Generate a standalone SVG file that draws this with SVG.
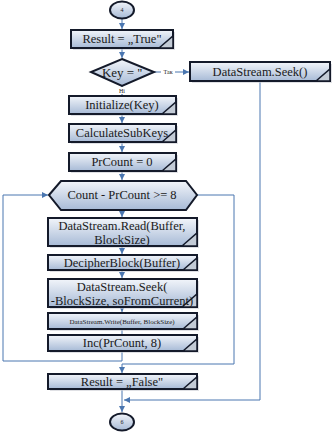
<svg xmlns="http://www.w3.org/2000/svg" width="335" height="435" viewBox="0 0 335 435">
<defs>
<linearGradient id="g" x1="0" y1="0" x2="0" y2="1">
<stop offset="0" stop-color="#f2f5fa"/>
<stop offset="1" stop-color="#a7bad6"/>
</linearGradient>
<marker id="a" viewBox="0 0 6 6" refX="6" refY="3" markerWidth="6" markerHeight="6" markerUnits="userSpaceOnUse" orient="auto">
<path d="M0,0 L6,3 L0,6 Z" fill="#4a76b0"/>
</marker>
<style>
.b{fill:url(#g);stroke:#141a2a;stroke-width:2}
.s{fill:#c9ccd2;opacity:0.6}
.c{fill:#c3cbd6;stroke:#141a2a;stroke-width:1.5}
.t{font-family:"Liberation Serif","Times New Roman",serif;font-size:12.5px;fill:#1a1a1a;text-anchor:middle}
.big{font-size:13px}
.sm{font-family:"Liberation Serif","Times New Roman",serif;font-size:6px;fill:#1a1a1a;text-anchor:middle}
.l{fill:none;stroke:#4a76b0;stroke-width:1}
</style>
</defs>
<rect width="335" height="435" fill="#ffffff"/>
<g id="connectors">
<line class="l" x1="122" y1="19" x2="122" y2="29" marker-end="url(#a)"/>
<line class="l" x1="122" y1="49" x2="122" y2="58" marker-end="url(#a)"/>
<line class="l" x1="154" y1="72" x2="189" y2="72" marker-end="url(#a)"/>
<line class="l" x1="122" y1="86" x2="122" y2="95" marker-end="url(#a)"/>
<line class="l" x1="122" y1="115" x2="122" y2="123" marker-end="url(#a)"/>
<line class="l" x1="122" y1="143" x2="122" y2="152" marker-end="url(#a)"/>
<line class="l" x1="122" y1="172" x2="122" y2="180" marker-end="url(#a)"/>
<line class="l" x1="122" y1="211" x2="122" y2="217" marker-end="url(#a)"/>
<line class="l" x1="122" y1="247" x2="122" y2="254" marker-end="url(#a)"/>
<line class="l" x1="122" y1="271" x2="122" y2="278" marker-end="url(#a)"/>
<line class="l" x1="122" y1="308" x2="122" y2="312" marker-end="url(#a)"/>
<line class="l" x1="122" y1="330" x2="122" y2="335"/>
<polyline class="l" points="122,352 122,361 3,361 3,195 48,195" marker-end="url(#a)"/>
<polyline class="l" points="197,195 234,195 234,364 122,364 122,373" marker-end="url(#a)"/>
<polyline class="l" points="260,82 260,400 124,400" marker-end="url(#a)"/>
<line class="l" x1="122" y1="390" x2="122" y2="412" marker-end="url(#a)"/>
<rect x="161" y="68" width="14" height="8" fill="#ffffff"/>
<text class="sm" x="168" y="74">Так</text>
<rect x="116" y="87" width="12" height="7" fill="#ffffff"/>
<text class="sm" x="122" y="93">Ні</text>
</g>
<g id="start">
<ellipse cx="122" cy="10" rx="12" ry="8.5" class="b"/>
<text class="sm" x="122" y="12">4</text>
</g>
<g id="resultTrue">
<rect class="s" x="73" y="32" width="102" height="18"/>
<rect class="b" x="71" y="30" width="102" height="18"/>
<polygon class="c" points="159,48 173,36 173,48"/>
<text class="t" x="122" y="43">Result = „True"</text>
</g>
<g id="keyCheck">
<polygon class="b" points="122,59 154,72 122,86 91,72"/>
<text class="t big" x="122" y="77">Key = ''</text>
</g>
<g id="seekEnd">
<rect class="s" x="192" y="64" width="140" height="19"/>
<rect class="b" x="190" y="62" width="140" height="19"/>
<polygon class="c" points="316,81 330,69 330,81"/>
<text class="t" x="260" y="76">DataStream.Seek()</text>
</g>
<g id="initialize">
<rect class="s" x="71" y="98" width="107" height="18"/>
<rect class="b" x="69" y="96" width="107" height="18"/>
<polygon class="c" points="162,114 176,102 176,114"/>
<text class="t" x="122" y="109">Initialize(Key)</text>
</g>
<g id="calcSubKeys">
<rect class="s" x="71" y="126" width="107" height="18"/>
<rect class="b" x="69" y="124" width="107" height="18"/>
<polygon class="c" points="162,142 176,130 176,142"/>
<text class="t" x="122" y="137">CalculateSubKeys</text>
</g>
<g id="prCount0">
<rect class="s" x="71" y="155" width="107" height="18"/>
<rect class="b" x="69" y="153" width="107" height="18"/>
<polygon class="c" points="162,171 176,159 176,171"/>
<text class="t" x="122" y="166">PrCount = 0</text>
</g>
<g id="loopCond">
<polygon class="b" points="49,195 61,181 186,181 197,195 186,210 61,210"/>
<text class="t" x="122" y="199">Count - PrCount &gt;= 8</text>
</g>
<g id="read">
<rect class="s" x="50" y="220" width="149" height="28"/>
<rect class="b" x="48" y="218" width="149" height="28"/>
<polygon class="c" points="182,246 197,233 197,246"/>
<text class="t" x="122" y="229.5">DataStream.Read(Buffer,</text>
<text class="t" x="122" y="243.5">BlockSize)</text>
</g>
<g id="decipher">
<rect class="s" x="50" y="257" width="149" height="15"/>
<rect class="b" x="48" y="255" width="149" height="15"/>
<polygon class="c" points="183,270 197,258 197,270"/>
<text class="t" x="122" y="267">DecipherBlock(Buffer)</text>
</g>
<g id="seekBack">
<rect class="s" x="50" y="281" width="149" height="28"/>
<rect class="b" x="48" y="279" width="149" height="28"/>
<polygon class="c" points="182,307 197,294 197,307"/>
<text class="t" x="122" y="290.5">DataStream.Seek(</text>
<text class="t" x="122" y="304.5">-BlockSize, soFromCurrent)</text>
</g>
<g id="write">
<rect class="s" x="50" y="315" width="149" height="16"/>
<rect class="b" x="48" y="313" width="149" height="16"/>
<polygon class="c" points="183,329 197,317 197,329"/>
<text class="t" x="122" y="323.5" style="font-size:7px">DataStream.Write(Buffer, BlockSize)</text>
</g>
<g id="inc">
<rect class="s" x="50" y="337" width="149" height="16"/>
<rect class="b" x="48" y="335" width="149" height="16"/>
<polygon class="c" points="183,351 197,339 197,351"/>
<text class="t" x="122" y="347">Inc(PrCount, 8)</text>
</g>
<g id="resultFalse">
<rect class="s" x="50" y="376" width="149" height="15"/>
<rect class="b" x="48" y="374" width="149" height="15"/>
<polygon class="c" points="183,389 197,377 197,389"/>
<text class="t" x="122" y="386">Result = „False"</text>
</g>
<g id="end">
<ellipse cx="122" cy="422" rx="12" ry="8.5" class="b"/>
<text class="sm" x="122" y="424">6</text>
</g>
</svg>
